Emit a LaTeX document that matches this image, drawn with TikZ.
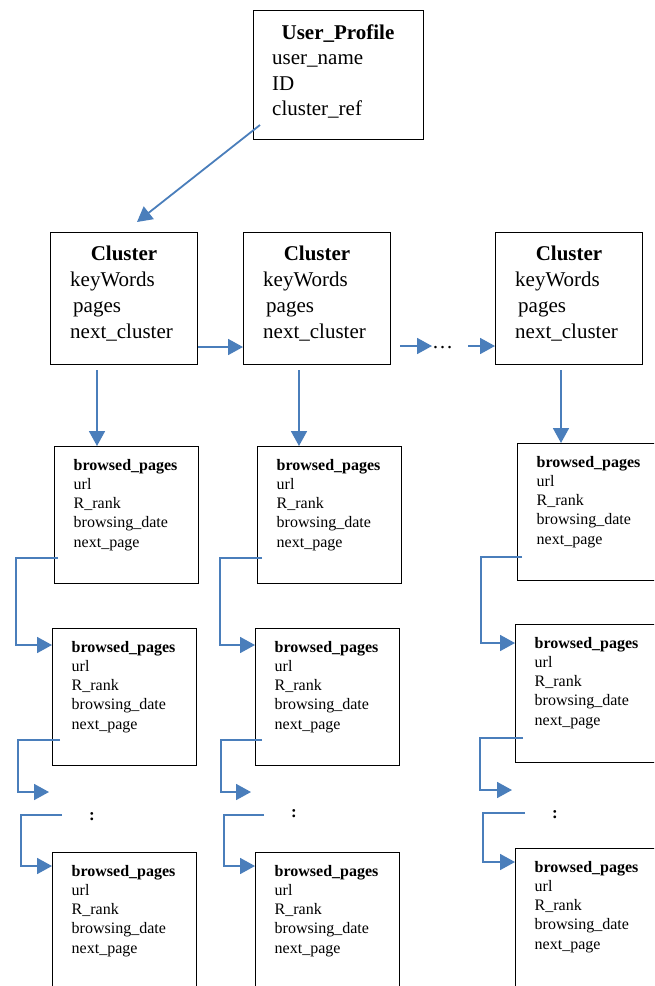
\documentclass[tikz,border=0pt]{standalone}
\usepackage{fontspec}
\setmainfont{Liberation Serif}
\usetikzlibrary{arrows.meta,calc}
\definecolor{linkblue}{RGB}{74,126,187}
\tikzset{
  box/.style={draw=black, line width=1.3pt, rectangle, inner sep=0pt, anchor=north west},
  link/.style={draw=linkblue, line width=1.8pt, -{Triangle[length=15pt,width=16pt]}},
  bigfld/.style={anchor=base west, inner sep=0pt, font=\fontsize{21}{25}\selectfont},
  bigttl/.style={anchor=base, inner sep=0pt, font=\fontsize{21}{25}\selectfont\bfseries},
  smallfld/.style={anchor=base west, inner sep=0pt, font=\fontsize{16}{19}\selectfont},
  smallttl/.style={anchor=base west, inner sep=0pt, font=\fontsize{16}{19}\selectfont\bfseries},
  dotsep/.style={anchor=base, inner sep=0pt, font=\fontsize{17}{19}\selectfont\bfseries},
}
% record box of one browsed page: #1 name, #2 left, #3 top, #4 height
\newcommand\pagerec[4]{%
  \node[box, minimum width=144pt, minimum height=#4pt] (#1) at (#2,#3) {};
  \node[smallttl] (#1-t) at ($(#2,#3)+(19.5,24)$) {browsed\_pages};
  \node[smallfld] (#1-a) at ($(#2,#3)+(19.5,43.3)$) {url};
  \node[smallfld] (#1-b) at ($(#2,#3)+(19.5,62.6)$) {R\_rank};
  \node[smallfld] (#1-c) at ($(#2,#3)+(19.5,81.9)$) {browsing\_date};
  \node[smallfld] (#1-d) at ($(#2,#3)+(19.5,101.2)$) {next\_page};
}
% record box of one cluster: #1 name, #2 left, #3 top
\newcommand\clusterrec[3]{%
  \node[box, minimum width=147pt, minimum height=132pt] (#1) at (#2,#3) {};
  \node[bigttl] (#1-t) at ($(#2,#3)+(74,28)$) {Cluster};
  \node[bigfld] (#1-a) at ($(#2,#3)+(20,54)$) {keyWords};
  \node[bigfld] (#1-b) at ($(#2,#3)+(23,80)$) {pages};
  \node[bigfld] (#1-c) at ($(#2,#3)+(20,106)$) {next\_cluster};
}
\begin{document}
\begin{tikzpicture}[x=1pt,y=-1pt]
\useasboundingbox (0,0) rectangle (654,986);
\clip (0,0) rectangle (654,986);

% user profile record
\node[box, minimum width=170pt, minimum height=129pt] (up) at (253,10) {};
\node[bigttl] (up-t) at (338,39) {User\_Profile};
\node[bigfld] (up-a) at (272,64) {user\_name};
\node[bigfld] (up-b) at (272,90) {ID};
\node[bigfld] (up-c) at (272,115) {cluster\_ref};

% clusters
\clusterrec{c1}{50}{232}
\clusterrec{c2}{243}{232}
\clusterrec{c3}{495}{232}

% browsed pages, three per cluster
\pagerec{p11}{54}{446}{137}
\pagerec{p21}{52}{628}{137}
\pagerec{p31}{52}{852}{160}
\pagerec{p12}{257}{446}{137}
\pagerec{p22}{255}{628}{137}
\pagerec{p32}{255}{852}{160}
\pagerec{p13}{517}{443}{137}
\pagerec{p23}{515}{624}{138}
\pagerec{p33}{515}{848}{160}

% profile -> first cluster
\coordinate (upout) at (260,125);
\coordinate (c1in) at (137,222);
\draw[link] (upout) -- (c1in);

% cluster chain
\draw[link] (c1.east |- 0,347) -- (c2.west |- 0,347);
\coordinate (gapA) at (400,346);
\coordinate (gapB) at (432,346);
\node[anchor=base west, inner sep=0pt, font=\fontsize{21}{25}\selectfont] (ell) at (432,348) {…};
\coordinate (gapC) at (468,346);
\draw[link] (gapA) -- (gapB);
\draw[link] (gapC) -- (c3.west |- gapC);

% cluster -> first page
\coordinate (d1) at (97,370);
\coordinate (d2) at (299,370);
\coordinate (d3) at (561,370);
\draw[link] (d1) -- (d1 |- p11.north);
\draw[link] (d2) -- (d2 |- p12.north);
\draw[link] (d3) -- (d3 |- p13.north);

% page chain, column 1
\coordinate (s11) at (58,558);
\draw[link] (s11) -- (16,558) |- (p21.west |- 0,645);
\coordinate (s21) at (60,740);
\coordinate (g1) at (49,792);
\draw[link] (s21) -- (18,740) |- (g1);
\node[dotsep] (col1) at (92,820) {:};
\coordinate (s31) at (62,815);
\draw[link] (s31) -- (21,815) |- (p31.west |- 0,866);

% page chain, column 2
\coordinate (s12) at (262,558);
\draw[link] (s12) -- (220,558) |- (p22.west |- 0,645);
\coordinate (s22) at (262,740);
\coordinate (g2) at (251,792);
\draw[link] (s22) -- (221,740) |- (g2);
\node[dotsep] (col2) at (294,817) {:};
\coordinate (s32) at (264,815);
\draw[link] (s32) -- (224,815) |- (p32.west |- 0,866);

% page chain, column 3
\coordinate (s13) at (522,557);
\draw[link] (s13) -- (481,557) |- (p23.west |- 0,643);
\coordinate (s23) at (523,738);
\coordinate (g3) at (512,790);
\draw[link] (s23) -- (480,738) |- (g3);
\node[dotsep] (col3) at (555,818) {:};
\coordinate (s33) at (525,813);
\draw[link] (s33) -- (483,813) |- (p33.west |- 0,862);
\end{tikzpicture}
\end{document}
